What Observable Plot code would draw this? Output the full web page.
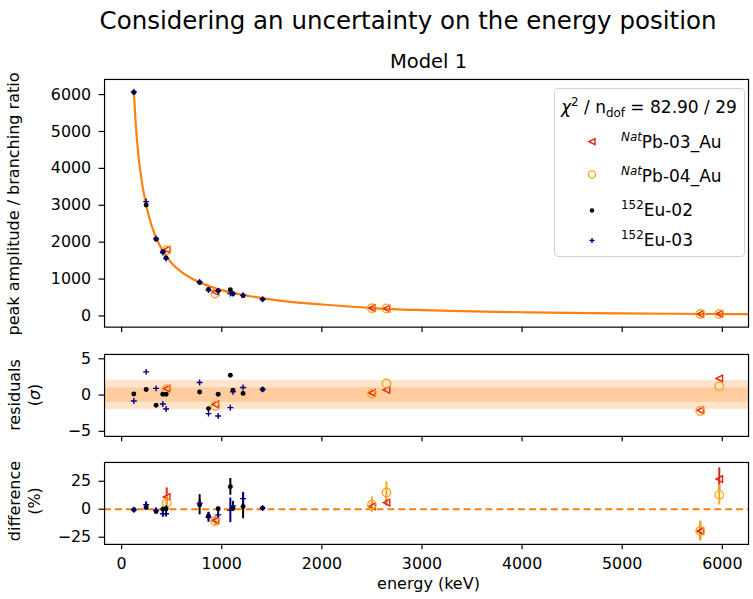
<!DOCTYPE html>
<html><head><meta charset="utf-8">
<script src="https://cdn.jsdelivr.net/npm/d3@7"></script>
<script src="https://cdn.jsdelivr.net/npm/@observablehq/plot@0.6"></script>
<style>
body{margin:0;width:753px;height:599px;overflow:hidden;background:#fff;font-family:"DejaVu Sans",sans-serif;}
#root{position:relative;width:753px;height:599px;overflow:hidden;}
.abs{position:absolute;white-space:nowrap;color:#000;line-height:1;}
.panel{position:absolute;left:0;}
sup,sub{font-size:0.7em;line-height:0;}
</style></head><body><div id="root"></div>
<script>
// ---------------- data ----------------
const xTicks = [0, 1000, 2000, 3000, 4000, 5000, 6000];
const yTicksTop = [0, 1000, 2000, 3000, 4000, 5000, 6000];
const yTicksRes = [-5, 0, 5];
const yTicksDiff = [-25, 0, 25];
const sigmaBands = [2, 1];

// 152Eu lines (keV)
const energiesEu = [121.8, 244.7, 344.3, 411.1, 444.0, 778.9, 867.4, 964.1, 1085.8, 1112.1, 1213.0, 1408.0];
const eu02Amp  = [6060, 3010, 2080, 1740, 1570, 905, 715, 685, 710, 600, 550, 450];
const eu02Res  = [0.14, 0.78, -1.4, 0.1, 0.1, 0.41, -1.87, 0.1, 2.74, 0.68, 0.23, 0.78];
const eu02Diff = [-0.4, 1.5, -2, 0, 0.5, 4, -6, 0.4, 20, 1, 2.5, 1];
const eu02Err  = [0.8, 1.5, 1.5, 2, 2.5, 9, 3, 1.5, 7.5, 3, 11, 1.2];
const eu03Amp  = [6080, 3100, 2100, 1720, 1560, 920, 700, 670, 610, 605, 565, 452];
const eu03Res  = [-0.82, 3.2, 0.92, -1.23, -1.92, 1.74, -2.56, -2.88, -1.74, 0.45, 1.05, 0.78];
const eu03Diff = [-0.5, 4, -1, -4, -4, 5.5, -7.2, -5, -1, 3, 9.5, 1];
const eu03Err  = [1, 2.5, 2, 3, 2.5, 3, 4.5, 4, 11, 4, 5.6, 1.5];

// NatPb lines (keV)
const energiesPb = [450, 935, 2500, 2645, 5780, 5970];
const pb03Amp  = [1800, 650, 210, 200, 53, 55];
const pb03Res  = [0.9, -1.3, 0.3, 0.7, -2.1, 2.3];
const pb03Diff = [11, -10, 2.5, 6, -19.6, 27];
const pb03Err  = [8, 3, 3, 3, 8, 10];
const pb04Amp  = [1780, 610, 208, 205, 52, 52];
const pb04Res  = [0.8, -1.5, 0.2, 1.6, -2.2, 1.2];
const pb04Diff = [5.5, -10.8, 4, 15, -19.5, 12.8];
const pb04Err  = [8, 4, 7, 9.5, 9, 9];

// fitted curve
const curveE   = [121.8, 140, 160, 180, 200, 244.7, 300, 344, 400, 444, 500, 600, 700, 800, 900, 1000, 1100, 1200, 1400, 1600, 2000, 2500, 3000, 3500, 4000, 4500, 5000, 5500, 6000, 6250];
const curveAmp = [6070, 5220, 4560, 4060, 3660, 3010, 2440, 2120, 1810, 1620, 1430, 1190, 1015, 885, 785, 700, 633, 576, 485, 410, 310, 214, 160, 125, 100, 82, 69, 59, 52, 48];

const xDomain = [-171, 6262];

// ---------------- build tables ----------------
const mk = (E, amp, res, diff, err) => E.map((e, i) => ({E: e, amp: amp[i], res: res[i], diff: diff[i], err: err[i]}));
const eu02 = mk(energiesEu, eu02Amp, eu02Res, eu02Diff, eu02Err);
const eu03 = mk(energiesEu, eu03Amp, eu03Res, eu03Diff, eu03Err);
const pb03 = mk(energiesPb, pb03Amp, pb03Res, pb03Diff, pb03Err);
const pb04 = mk(energiesPb, pb04Amp, pb04Res, pb04Diff, pb04Err);
const curve = curveE.map((e, i) => ({E: e, amp: curveAmp[i]}));

const C_RED = "#e0201b", C_ORG = "#f5a81c", C_BLK = "#000000", C_BLU = "#00007a", C_FIT = "#ff7f0e";

const triLeft = {draw(ctx, size) { const r = Math.sqrt(size / Math.PI); ctx.moveTo(-r, 0); ctx.lineTo(r, -r); ctx.lineTo(r, r); ctx.closePath(); }};
const plus = {draw(ctx, size) { const r = Math.sqrt(size / Math.PI); ctx.moveTo(-r, 0); ctx.lineTo(r, 0); ctx.moveTo(0, -r); ctx.lineTo(0, r); }};

const fmt = d => (d < 0 ? "\u2212" + Math.abs(d) : String(d));

function seriesMarks(yKey) {
  return [
    Plot.dot(pb03, {x: "E", y: yKey, symbol: triLeft, r: 3.3, fill: "none", stroke: C_RED, strokeWidth: 1.4}),
    Plot.dot(pb04, {x: "E", y: yKey, r: 4.3, fill: "none", stroke: C_ORG, strokeWidth: 1.4}),
    Plot.dot(eu02, {x: "E", y: yKey, r: 2.5, fill: C_BLK, stroke: "none"}),
    Plot.dot(eu03, {x: "E", y: yKey, symbol: plus, r: 3, fill: "none", stroke: C_BLU, strokeWidth: 1.4})
  ];
}

function panel({height, marginBottom, yDomain, yTicks, labels, marks}) {
  return Plot.plot({
    width: 760, height, marginLeft: 105, marginRight: 5, marginTop: 5, marginBottom,
    style: {fontFamily: "DejaVu Sans", fontSize: "16px", color: "#000", background: "transparent", overflow: "visible"},
    x: {domain: xDomain},
    y: {domain: yDomain},
    marks: [
      ...marks,
      Plot.axisX({ticks: xTicks, tickSize: 5.5, tickPadding: 8, tickFormat: labels ? fmt : () => "", label: null, strokeWidth: 1.2}),
      Plot.axisY({ticks: yTicks, tickSize: 5.5, tickPadding: 8, tickFormat: fmt, label: null, strokeWidth: 1.2}),
      Plot.frame({stroke: "#000", strokeWidth: 1.2})
    ]
  });
}

const root = document.getElementById("root");
function place(node, top) { node.classList.add("panel"); node.style.top = top + "px"; root.appendChild(node); }

// top panel
place(panel({
  height: 265, marginBottom: 10, yDomain: [-303, 6411], yTicks: yTicksTop, labels: false,
  marks: [
    Plot.line(curve, {x: "E", y: "amp", stroke: C_FIT, strokeWidth: 2.2, curve: "monotone-x", clip: true}),
    ...seriesMarks("amp")
  ]
}), 74);

// residual panel
place(panel({
  height: 97.7, marginBottom: 10, yDomain: [-5.7, 5.6], yTicks: yTicksRes, labels: false,
  marks: [
    Plot.rect(sigmaBands, {x1: () => xDomain[0], x2: () => xDomain[1], y1: d => -d, y2: d => d, fill: C_FIT, fillOpacity: 0.22}),
    ...seriesMarks("res")
  ]
}), 349);

// difference panel
const bars = (data, color) => Plot.ruleX(data, {x: "E", y1: d => d.diff - d.err, y2: d => d.diff + d.err, stroke: color, strokeWidth: 2});
place(panel({
  height: 117.7, marginBottom: 30, yDomain: [-31.4, 41.8], yTicks: yTicksDiff, labels: true,
  marks: [
    Plot.ruleY([0], {stroke: C_FIT, strokeWidth: 2, strokeDasharray: "7,4"}),
    bars(pb03, C_RED), bars(pb04, C_ORG), bars(eu02, C_BLK), bars(eu03, C_BLU),
    ...seriesMarks("diff")
  ]
}), 457.3);

// ---------------- texts ----------------
function text(html, x, y, size, extra = "") {
  const d = document.createElement("div");
  d.className = "abs";
  d.innerHTML = html;
  d.style.cssText += `left:${x}px;top:${y}px;font-size:${size}px;transform:translate(-50%,-50%) ${extra};`;
  root.appendChild(d);
  return d;
}
text("Considering an uncertainty on the energy position", 408, 21, 24.5);
text("Model 1", 428.5, 62, 19.5);
text("peak amplitude / branching ratio", 14, 204, 16, "rotate(-90deg)");
text("residuals", 15, 395, 16, "rotate(-90deg)");
text("(<i>σ</i>)", 35, 395, 16, "rotate(-90deg)");
text("difference", 15, 501, 16, "rotate(-90deg)");
text("(%)", 35, 501, 16, "rotate(-90deg)");
text("energy (keV)", 428.5, 584, 16);

// legend
const leg = document.createElement("div");
leg.style.cssText = "position:absolute;left:554px;top:88px;width:189px;height:167px;border:1px solid #d4d4d4;border-radius:4px;background:rgba(255,255,255,0.85);";
root.appendChild(leg);
function ltext(html, x, y) {
  const d = document.createElement("div");
  d.className = "abs";
  d.innerHTML = html;
  d.style.cssText += `left:${x}px;top:${y}px;font-size:17px;transform:translateY(-50%);`;
  root.appendChild(d);
}
ltext("<i>χ</i><sup>2</sup> / n<sub>dof</sub> = 82.90 / 29", 561, 107);
const legItems = [
  {label: "<sup><i>Nat</i></sup>Pb-03_Au", y: 142},
  {label: "<sup><i>Nat</i></sup>Pb-04_Au", y: 175.5},
  {label: "<sup>152</sup>Eu-02", y: 209.5},
  {label: "<sup>152</sup>Eu-03", y: 239.5}
];
legItems.forEach(it => ltext(it.label, 621, it.y));
const svgNS = "http://www.w3.org/2000/svg";
const lsvg = document.createElementNS(svgNS, "svg");
lsvg.setAttribute("width", 753); lsvg.setAttribute("height", 599);
lsvg.style.cssText = "position:absolute;left:0;top:0;pointer-events:none;";
lsvg.innerHTML = `
  <path d="M589,141.7 L595,138.7 L595,144.7 Z" fill="none" stroke="${C_RED}" stroke-width="1.4"/>
  <circle cx="592" cy="174.5" r="3.6" fill="none" stroke="${C_ORG}" stroke-width="1.4"/>
  <circle cx="592" cy="210.5" r="2.2" fill="${C_BLK}"/>
  <path d="M589.5,240.5 H594.5 M592,238 V243" stroke="${C_BLU}" stroke-width="1.4"/>`;
root.appendChild(lsvg);
</script></body></html>
